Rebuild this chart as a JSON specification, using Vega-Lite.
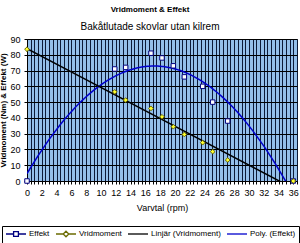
{
  "$schema": "https://vega.github.io/schema/vega-lite/v6.json",
  "width": 270,
  "height": 142,
  "autosize": "none",
  "padding": {"left": 27, "top": 39, "right": 3, "bottom": 62},
  "background": "white",
  "title": {
    "text": "Vridmoment & Effekt",
    "subtitle": "Bakåtlutade skovlar utan kilrem",
    "font": "Liberation Sans",
    "fontSize": 8,
    "fontWeight": "bold",
    "subtitleFont": "Liberation Sans",
    "subtitleFontSize": 10,
    "subtitleColor": "black",
    "subtitlePadding": 8,
    "color": "black",
    "anchor": "middle",
    "dx": -12,
    "offset": 3
  },
  "config": {
    "view": {"fill": "#94bfea", "stroke": "#606060"},
    "axis": {"labelFont": "Liberation Sans", "titleFont": "Liberation Sans", "labelColor": "black", "titleColor": "black", "domainColor": "black", "tickColor": "black"},
    "legend": {
      "title": null,
      "orient": "none",
      "legendX": -25,
      "legendY": 187,
      "direction": "horizontal",
      "columns": 4,
      "gridAlign": "none",
      "columnPadding": 3,
      "padding": 3,
      "strokeColor": "black",
      "fillColor": "white",
      "labelFont": "Liberation Sans",
      "labelFontSize": 8,
      "labelColor": "black",
      "symbolSize": 64,
      "symbolOffset": 6,
      "labelOffset": 8,
      "symbolStrokeWidth": 1.3
    }
  },
  "resolve": {"legend": {"color": "independent", "shape": "independent"}},
  "data": {
    "values": [
      {"rpm": 0, "vridmoment": 83.5, "effekt": 0},
      {"rpm": 11.86, "vridmoment": 56.5, "effekt": 71},
      {"rpm": 13.34, "vridmoment": 51.3, "effekt": 72},
      {"rpm": 16.76, "vridmoment": 46, "effekt": 81},
      {"rpm": 18.25, "vridmoment": 40.7, "effekt": 78},
      {"rpm": 19.78, "vridmoment": 34.4, "effekt": 73},
      {"rpm": 21.27, "vridmoment": 29.5, "effekt": 66},
      {"rpm": 23.75, "vridmoment": 24.3, "effekt": 60},
      {"rpm": 25.1, "vridmoment": 18.6, "effekt": 50},
      {"rpm": 27.13, "vridmoment": 13.3, "effekt": 38},
      {"rpm": 36, "vridmoment": 0, "effekt": 0}
    ]
  },
  "encoding": {
    "x": {
      "field": "rpm", "type": "quantitative",
      "scale": {"domain": [0, 36.5], "nice": false, "zero": true},
      "axis": {
        "title": "Varvtal (rpm)",
        "titleFontSize": 9, "titleFontWeight": "normal", "titlePadding": 6,
        "labelFontSize": 9, "labelPadding": 4, "tickSize": 3,
        "values": [0,0.5,1,1.5,2,2.5,3,3.5,4,4.5,5,5.5,6,6.5,7,7.5,8,8.5,9,9.5,10,10.5,11,11.5,12,12.5,13,13.5,14,14.5,15,15.5,16,16.5,17,17.5,18,18.5,19,19.5,20,20.5,21,21.5,22,22.5,23,23.5,24,24.5,25,25.5,26,26.5,27,27.5,28,28.5,29,29.5,30,30.5,31,31.5,32,32.5,33,33.5,34,34.5,35,35.5,36,36.5],
        "labelExpr": "datum.value % 2 === 0 ? format(datum.value, 'd') : ''",
        "labelFlush": false,
        "labelOverlap": false,
        "labelBound": false,
        "grid": true, "gridColor": "#0c1a38", "gridOpacity": 1, "gridWidth": 1
      }
    },
    "y": {
      "field": "effekt", "type": "quantitative",
      "scale": {"domain": [0, 90], "nice": false},
      "axis": {
        "title": "Vridmoment (Nm) & Effekt (W)",
        "titleFontSize": 8, "titleFontWeight": "bold", "titleX": -20,
        "labelFontSize": 9, "labelPadding": 4, "tickSize": 3, "labelOverlap": false,
        "values": [0,10,20,30,40,50,60,70,80,90],
        "grid": true, "gridColor": "black", "gridOpacity": 1, "gridWidth": 1
      }
    }
  },
  "layer": [
    {
      "mark": {"type": "line", "color": "#0000cc", "strokeWidth": 1.5, "clip": true},
      "transform": [{"regression": "effekt", "on": "rpm", "method": "poly", "order": 2, "extent": [0, 36.5]}],
      "encoding": {
        "color": {"datum": "Poly. (Effekt)", "legend": null}
      }
    },
    {
      "mark": {"type": "line", "color": "black", "strokeWidth": 1.5, "clip": true},
      "transform": [{"regression": "vridmoment", "on": "rpm", "method": "linear", "extent": [0, 36.5]}],
      "encoding": {
        "y": {"field": "vridmoment", "type": "quantitative"},
        "color": {"datum": "Linjär (Vridmoment)", "legend": null}
      }
    },
    {
      "mark": {"type": "point", "shape": "square", "filled": true, "fill": "white", "stroke": "#000080", "strokeWidth": 1, "size": 20, "opacity": 1},
      "encoding": {
        "color": {"datum": "Effekt", "legend": null}
      }
    },
    {
      "mark": {"type": "point", "shape": "diamond", "filled": true, "fill": "#ffff33", "stroke": "#6b6b00", "strokeWidth": 1, "size": 22, "opacity": 1},
      "encoding": {
        "y": {"field": "vridmoment", "type": "quantitative"},
        "color": {"datum": "Vridmoment", "legend": null}
      }
    },
    {
      "transform": [{"filter": "datum.rpm < 0"}],
      "mark": {"type": "point", "filled": false, "strokeWidth": 1.3, "opacity": 1},
      "encoding": {
        "color": {
          "datum": "Effekt",
          "scale": {
            "domain": ["Effekt", "Vridmoment", "Linjär (Vridmoment)", "Poly. (Effekt)"],
            "range": ["#000080", "#6b6b00", "black", "#0000cc"]
          }
        },
        "shape": {
          "datum": "Effekt",
          "scale": {
            "domain": ["Effekt", "Vridmoment", "Linjär (Vridmoment)", "Poly. (Effekt)"],
            "range": [
              "M-2.5,0H-0.6M0.6,0H2.5M-0.6,-0.6H0.6V0.6H-0.6Z",
              "M-2.5,0H-0.7M0.7,0H2.5M0,-0.7L0.7,0L0,0.7L-0.7,0Z",
              "M-2.5,0H2.5",
              "M-2.5,0H2.5"
            ]
          }
        }
      }
    }
  ]
}
